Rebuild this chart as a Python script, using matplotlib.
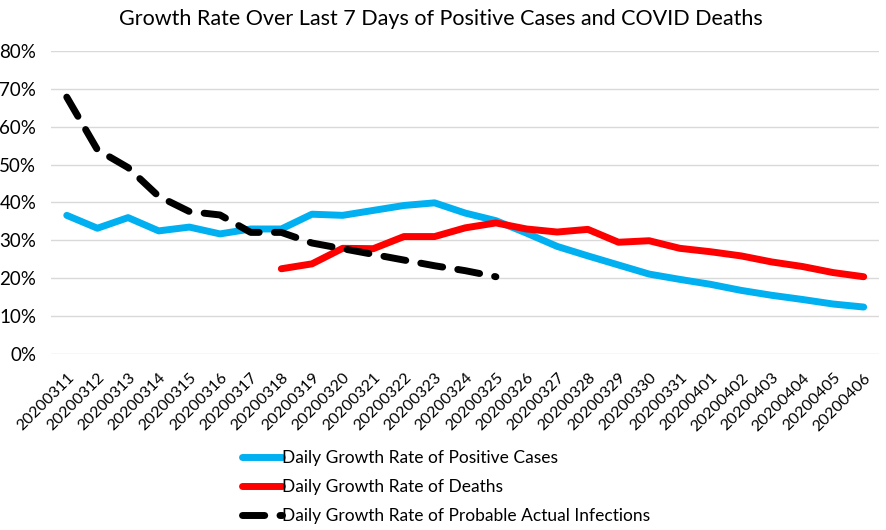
import numpy as np
import matplotlib.pyplot as plt
from matplotlib.ticker import PercentFormatter

plt.rcParams['font.family'] = ['Lato', 'DejaVu Sans']

dates = ['20200311', '20200312', '20200313', '20200314', '20200315', '20200316',
         '20200317', '20200318', '20200319', '20200320', '20200321', '20200322',
         '20200323', '20200324', '20200325', '20200326', '20200327', '20200328',
         '20200329', '20200330', '20200331', '20200401', '20200402', '20200403',
         '20200404', '20200405', '20200406']

# growth rate of positive cases (%)
cases = [36.6, 33.2, 36.0, 32.5, 33.5, 31.7, 33.0, 33.0, 36.9, 36.6, 37.9, 39.2,
         39.9, 37.2, 35.2, 31.9, 28.4, 25.9, 23.5, 21.1, 19.7, 18.4, 16.8, 15.5,
         14.4, 13.2, 12.4]

# growth rate of deaths (%), starts 20200318
deaths = [np.nan] * 7 + [22.5, 23.8, 27.9, 27.8, 31.0, 31.0, 33.3, 34.6, 33.0,
                         32.2, 32.9, 29.5, 29.9, 27.9, 27.0, 25.9, 24.3, 23.1,
                         21.5, 20.4]

# growth rate of probable actual infections (%), ends 20200325
infections = [67.8, 53.9, 49.2, 41.6, 37.6, 36.7, 32.1, 32.1, 29.3, 27.8, 26.3,
              24.8, 23.3, 22.0, 20.4] + [np.nan] * 12

x = np.arange(len(dates))

fig = plt.figure(figsize=(8.87, 5.3), dpi=100)
ax = fig.add_axes([0.058, 0.332, 0.933, 0.572])

ax.plot(x, cases, color='#00b0f0', lw=5, solid_capstyle='round', solid_joinstyle='round',
        label='Daily Growth Rate of Positive Cases')
ax.plot(x, deaths, color='#ff0000', lw=5, solid_capstyle='round', solid_joinstyle='round',
        label='Daily Growth Rate of Deaths')
ax.plot(x, infections, color='black', lw=5, dashes=(3.2, 2.2), dash_capstyle='round',
        label='Daily Growth Rate of Probable Actual Infections')

ax.set_xlim(-0.5, len(dates) - 0.5)
ax.set_ylim(0, 80)
ax.set_yticks(np.arange(0, 81, 10))
ax.yaxis.set_major_formatter(PercentFormatter(decimals=0))
ax.set_xticks(x)
ax.set_xticklabels(dates, rotation=45, ha='right', rotation_mode='anchor', fontsize=11.5)
ax.tick_params(axis='y', labelsize=13.5, length=0, pad=11)
ax.tick_params(axis='x', length=0, pad=12)
ax.grid(axis='y', color='#d9d9d9', lw=1)
ax.set_axisbelow(True)
for s in ax.spines.values():
    s.set_visible(False)

fig.suptitle('Growth Rate Over Last 7 Days of Positive Cases and COVID Deaths',
             fontsize=15.5, x=0.497, y=0.965, va='center')

fig.legend(loc='lower center', bbox_to_anchor=(0.503, -0.018), ncol=1, frameon=False,
           fontsize=12.5, handlelength=2.3, handletextpad=0.0, labelspacing=0.75)

fig.savefig('out.png', dpi=100)
